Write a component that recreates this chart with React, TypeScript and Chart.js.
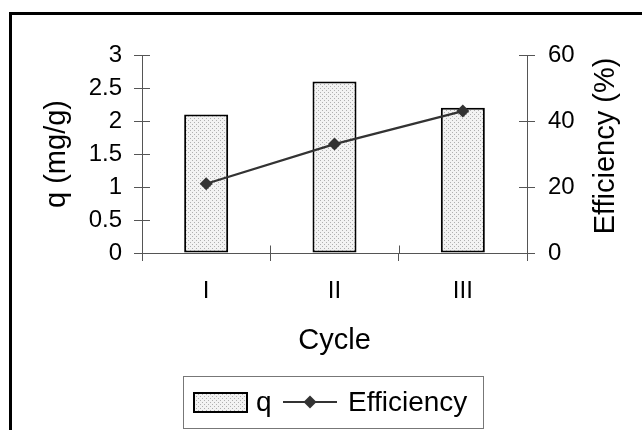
import React, { useEffect, useRef } from 'react';
import { Chart, registerables } from 'chart.js';

Chart.register(...registerables);

const categories = ['I', 'II', 'III'];
const qValues = [2.1, 2.6, 2.2];
const efficiencyValues = [21, 33, 43];
const seriesNames = ['q', 'Efficiency'];
const xTitle = 'Cycle';
const yLeftTitle = 'q (mg/g)';
const yRightTitle = 'Efficiency (%)';

const FONT = '"Liberation Sans", Arial, Helvetica, sans-serif';
const AXIS = '#555555';

function makePattern(ctx: CanvasRenderingContext2D): CanvasPattern | string {
  const c = document.createElement('canvas');
  c.width = 4;
  c.height = 4;
  const p = c.getContext('2d');
  if (!p) return '#e6e6e6';
  p.fillStyle = '#f3f3f3';
  p.fillRect(0, 0, 4, 4);
  p.fillStyle = '#b0b0b0';
  p.fillRect(0, 0, 1, 1);
  p.fillRect(2, 2, 1, 1);
  return ctx.createPattern(c, 'repeat') || '#e6e6e6';
}

const fmt = (v: any) => String(Number(v));

export default function App() {
  const ref = useRef<HTMLCanvasElement | null>(null);

  useEffect(() => {
    document.body.style.margin = '0';
    document.body.style.overflow = 'hidden';
    const canvas = ref.current;
    if (!canvas) return;
    const ctx0 = canvas.getContext('2d') as CanvasRenderingContext2D;
    const pattern = makePattern(ctx0);

    const decor = {
      id: 'decor',
      beforeDraw(chart: any) {
        const { ctx } = chart;
        ctx.save();
        ctx.fillStyle = '#ffffff';
        ctx.fillRect(0, 0, chart.width, chart.height);
        ctx.strokeStyle = '#000000';
        ctx.lineWidth = 3;
        ctx.strokeRect(10.5, 13.5, chart.width + 50, chart.height + 50);
        ctx.restore();
      },
      afterDraw(chart: any) {
        const { ctx } = chart;
        const area = chart.chartArea;
        const xs = chart.scales.x;
        const ys = chart.scales.y;
        const y1s = chart.scales.y1;
        ctx.save();
        ctx.strokeStyle = AXIS;
        ctx.lineWidth = 1;
        ctx.beginPath();
        const n = categories.length;
        for (let i = 1; i < n; i++) {
          const px = Math.round(xs.left + (i * xs.width) / n) + 0.5;
          ctx.moveTo(px, Math.round(area.bottom) + 0.5);
          ctx.lineTo(px, Math.round(area.bottom) - 8 + 0.5);
        }
        ys.ticks.forEach((t: any) => {
          const py = Math.round(ys.getPixelForValue(t.value)) + 0.5;
          ctx.moveTo(Math.round(area.left), py);
          ctx.lineTo(Math.round(area.left) + 8, py);
        });
        y1s.ticks.forEach((t: any) => {
          const py = Math.round(y1s.getPixelForValue(t.value)) + 0.5;
          ctx.moveTo(Math.round(area.right), py);
          ctx.lineTo(Math.round(area.right) - 8, py);
        });
        ctx.stroke();

        // right axis title (reads bottom to top)
        ctx.fillStyle = '#000000';
        ctx.font = `29px ${FONT}`;
        ctx.textAlign = 'center';
        ctx.textBaseline = 'middle';
        ctx.translate(606, 146);
        ctx.rotate(-Math.PI / 2);
        ctx.fillText(yRightTitle, 0, 0);
        ctx.setTransform(1, 0, 0, 1, 0, 0);

        // legend
        const ds = chart.data.datasets;
        ctx.strokeStyle = '#777777';
        ctx.lineWidth = 1;
        ctx.strokeRect(183.5, 376.5, 300, 52);
        ctx.fillStyle = pattern;
        ctx.fillRect(193, 392, 55, 21);
        ctx.strokeStyle = '#000000';
        ctx.lineWidth = 2;
        ctx.strokeRect(194, 393, 53, 19);
        ctx.fillStyle = '#000000';
        ctx.font = `28px ${FONT}`;
        ctx.textAlign = 'left';
        ctx.textBaseline = 'middle';
        ctx.fillText(ds[0].label, 256, 403);
        ctx.strokeStyle = '#333333';
        ctx.lineWidth = 2;
        ctx.beginPath();
        ctx.moveTo(283, 402);
        ctx.lineTo(337, 402);
        ctx.stroke();
        ctx.fillStyle = '#333333';
        ctx.beginPath();
        ctx.moveTo(310, 395.5);
        ctx.lineTo(316.5, 402);
        ctx.lineTo(310, 408.5);
        ctx.lineTo(303.5, 402);
        ctx.closePath();
        ctx.fill();
        ctx.fillStyle = '#000000';
        ctx.fillText(ds[1].label, 348, 403);
        ctx.restore();
      },
    };

    const tickFont = { family: FONT, size: 24 };
    const titleFont = { family: FONT, size: 29 };

    const chart = new Chart(canvas, {
      data: {
        labels: categories,
        datasets: [
          {
            type: 'bar',
            label: seriesNames[0],
            data: qValues,
            yAxisID: 'y',
            backgroundColor: pattern as any,
            borderColor: '#000000',
            borderWidth: 2,
            borderSkipped: false,
            barPercentage: 0.343,
            categoryPercentage: 1,
            order: 2,
          },
          {
            type: 'line',
            label: seriesNames[1],
            data: efficiencyValues,
            yAxisID: 'y1',
            borderColor: '#333333',
            borderWidth: 2.2,
            pointStyle: 'rectRot',
            pointRadius: 6.5,
            pointBackgroundColor: '#333333',
            pointBorderColor: '#333333',
            pointBorderWidth: 0,
            tension: 0,
            order: 1,
          },
        ],
      } as any,
      options: {
        responsive: false,
        animation: false,
        devicePixelRatio: 1,
        layout: { padding: { left: 0, right: 0, top: 55, bottom: 67 } },
        plugins: { legend: { display: false }, tooltip: { enabled: false } },
        scales: {
          x: {
            type: 'category',
            offset: true,
            grid: { offset: true, drawOnChartArea: false, tickLength: 8, color: AXIS },
            border: { color: AXIS },
            ticks: { font: tickFont, color: '#000000', padding: 16, maxRotation: 0 },
            title: { display: true, text: xTitle, font: titleFont, color: '#000000', padding: { top: 0, bottom: 5 } },
            afterFit: (s: any) => { s.height = 110; },
          },
          y: {
            type: 'linear',
            position: 'left',
            min: 0,
            max: 3,
            ticks: { stepSize: 0.5, font: tickFont, color: '#000000', padding: 12, callback: fmt },
            grid: { drawOnChartArea: false, tickLength: 8, color: AXIS },
            border: { color: AXIS },
            title: { display: true, text: yLeftTitle, font: titleFont, color: '#000000', padding: { top: 40, bottom: 0 } },
            afterFit: (s: any) => { s.width = 142; },
          },
          y1: {
            type: 'linear',
            position: 'right',
            min: 0,
            max: 60,
            ticks: { stepSize: 20, font: tickFont, color: '#000000', padding: 13, callback: fmt },
            grid: { drawOnChartArea: false, tickLength: 8, color: AXIS },
            border: { color: AXIS },
            afterFit: (s: any) => { s.width = 115; },
          },
        },
      } as any,
      plugins: [decor],
    });

    return () => chart.destroy();
  }, []);

  return (
    <div style={{ width: 642, height: 430 }}>
      <canvas ref={ref} width={642} height={430} style={{ display: 'block' }} />
    </div>
  );
}
